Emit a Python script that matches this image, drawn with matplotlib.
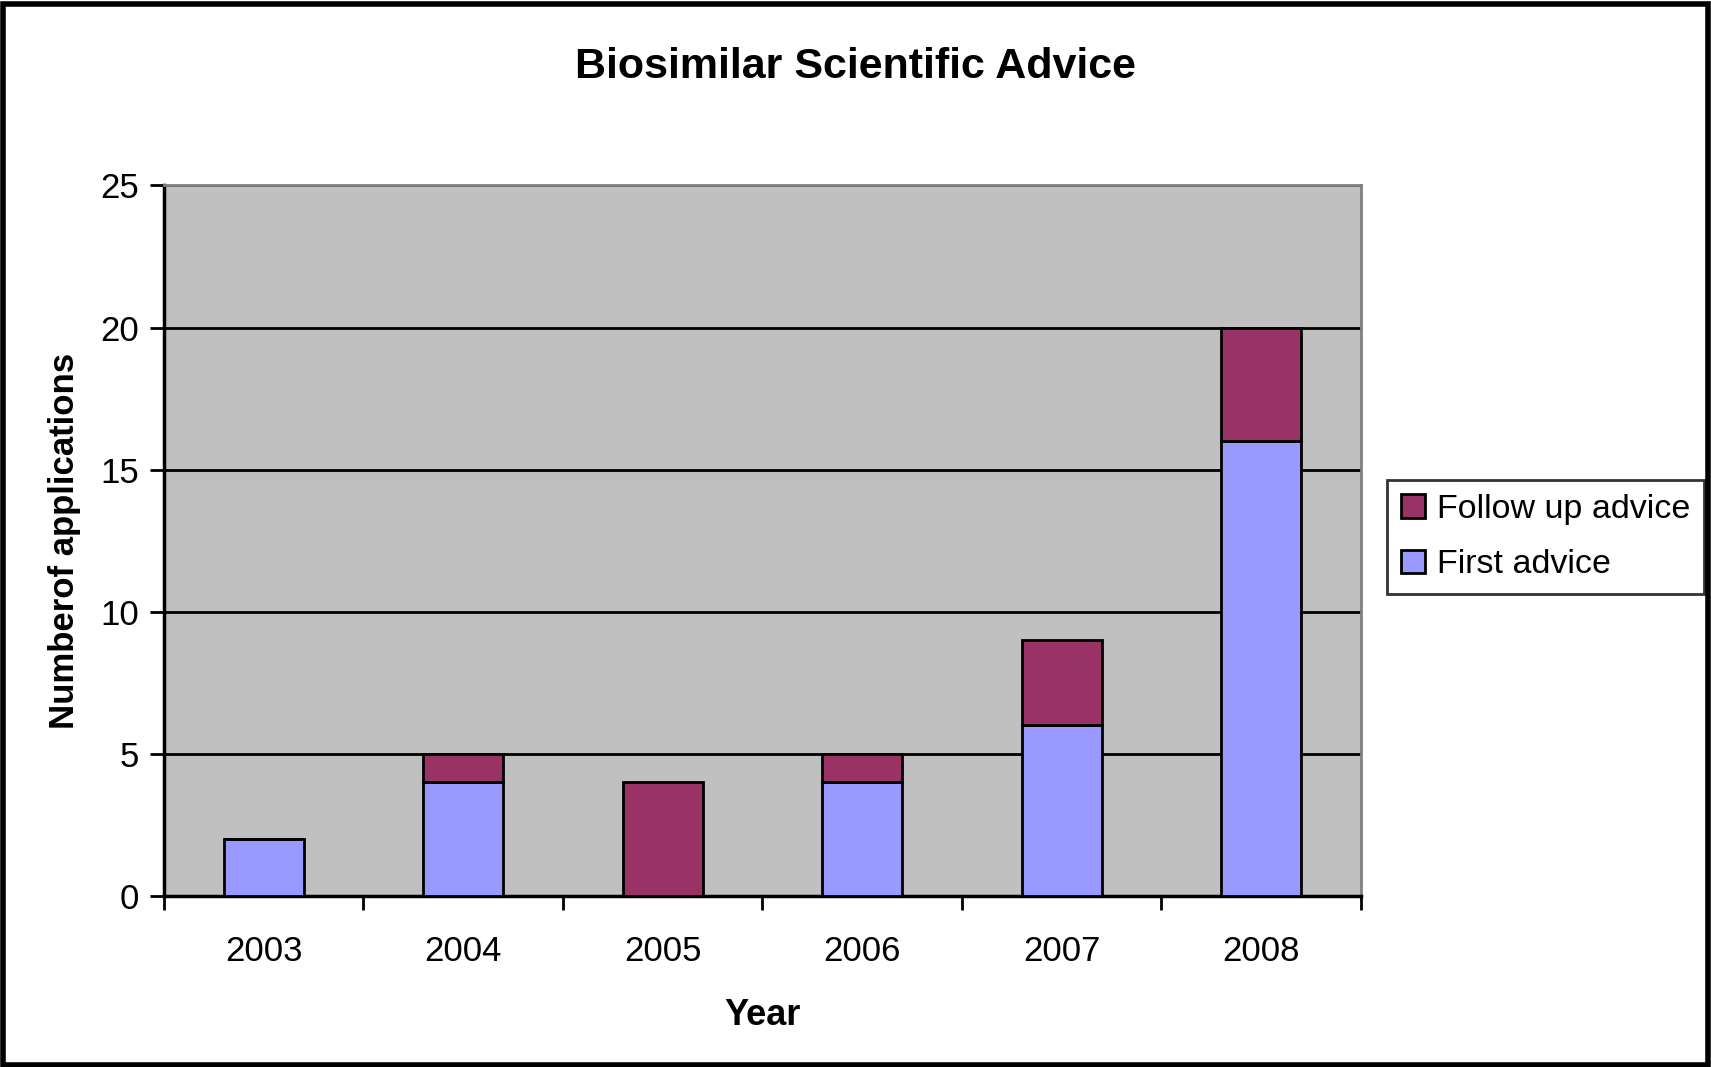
import matplotlib.pyplot as plt
from matplotlib.patches import Rectangle

years = ['2003', '2004', '2005', '2006', '2007', '2008']
first_advice = [2, 4, 0, 4, 6, 16]
follow_up = [0, 1, 4, 1, 3, 4]

plt.rcParams['font.family'] = ['Liberation Sans', 'DejaVu Sans']

fig = plt.figure(figsize=(17.11, 10.67), dpi=100)
ax = fig.add_axes([0.0958, 0.1603, 0.6996, 0.6659])
ax.set_facecolor('#C0C0C0')

x = range(len(years))
b1 = ax.bar(x, first_advice, width=0.4, color='#9999FF', edgecolor='black', linewidth=2, label='First advice', zorder=3)
b2 = ax.bar(x, follow_up, width=0.4, bottom=first_advice, color='#993366', edgecolor='black', linewidth=2, label='Follow up advice', zorder=3)

ax.set_xlim(-0.5, len(years) - 0.5)
ax.set_ylim(0, 25)
ax.set_yticks([0, 5, 10, 15, 20, 25])
ax.yaxis.grid(True, color='black', linewidth=2, zorder=1)
ax.set_axisbelow(True)

# tick marks sit between the categories, labels at the centres
ax.set_xticks([i + 0.5 for i in range(-1, len(years))])
ax.set_xticklabels([])
ax.set_xticks(list(x), minor=True)
ax.set_xticklabels(years, minor=True)
ax.tick_params(axis='x', which='minor', length=0, pad=28, labelsize=25)
ax.tick_params(axis='x', which='major', length=10, width=2, direction='out')
ax.tick_params(axis='y', length=10, width=2, direction='out', labelsize=25, pad=8)

for s in ['left', 'bottom']:
    ax.spines[s].set_linewidth(2.5)
    ax.spines[s].set_color('black')
for s in ['top', 'right']:
    ax.spines[s].set_linewidth(2)
    ax.spines[s].set_color('#808080')

ax.set_xlabel('Year', fontsize=26, fontweight='bold', labelpad=22)
ax.set_ylabel('Numberof applications', fontsize=25, fontweight='bold', labelpad=14)
fig.text(0.5, 0.937, 'Biosimilar Scientific Advice', fontsize=31, fontweight='bold', ha='center', va='center')

leg = ax.legend(handles=[b2, b1], loc='center left', bbox_to_anchor=(1.022, 0.505), fontsize=24.5,
                frameon=True, fancybox=False, edgecolor='black', handlelength=0.7, handleheight=0.7,
                handletextpad=0.35, borderpad=0.4, labelspacing=0.72, borderaxespad=0)
leg.get_frame().set_linewidth(2)

fig.patches.append(Rectangle((0.002, 0.002), 0.996, 0.994, transform=fig.transFigure, fill=False,
                             edgecolor='black', linewidth=4))

fig.savefig('out.png', dpi=100)
